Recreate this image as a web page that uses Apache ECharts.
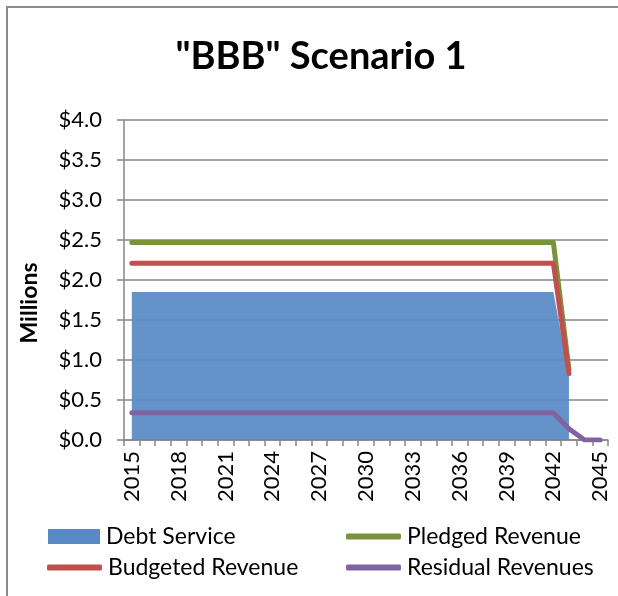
<!DOCTYPE html>
<html>
<head>
<meta charset="utf-8">
<script src="https://cdn.jsdelivr.net/npm/echarts@6/dist/echarts.min.js"></script>
<style>
html,body{margin:0;padding:0;background:#fff;}
#chart{width:618px;height:596px;}
</style>
</head>
<body>
<div id="chart"></div>
<script>
var years = ['2015','2016','2017','2018','2019','2020','2021','2022','2023','2024','2025','2026','2027','2028','2029','2030','2031','2032','2033','2034','2035','2036','2037','2038','2039','2040','2041','2042','2043','2044','2045'];
var debtService = [1.85,1.85,1.85,1.85,1.85,1.85,1.85,1.85,1.85,1.85,1.85,1.85,1.85,1.85,1.85,1.85,1.85,1.85,1.85,1.85,1.85,1.85,1.85,1.85,1.85,1.85,1.85,1.85,0.79,null,null];
var pledgedRevenue = [2.47,2.47,2.47,2.47,2.47,2.47,2.47,2.47,2.47,2.47,2.47,2.47,2.47,2.47,2.47,2.47,2.47,2.47,2.47,2.47,2.47,2.47,2.47,2.47,2.47,2.47,2.47,2.47,0.88,null,null];
var budgetedRevenue = [2.21,2.21,2.21,2.21,2.21,2.21,2.21,2.21,2.21,2.21,2.21,2.21,2.21,2.21,2.21,2.21,2.21,2.21,2.21,2.21,2.21,2.21,2.21,2.21,2.21,2.21,2.21,2.21,0.83,null,null];
var residualRevenues = [0.34,0.34,0.34,0.34,0.34,0.34,0.34,0.34,0.34,0.34,0.34,0.34,0.34,0.34,0.34,0.34,0.34,0.34,0.34,0.34,0.34,0.34,0.34,0.34,0.34,0.34,0.34,0.34,0.14,0,0];
var titleText = '"BBB" Scenario 1';
var yAxisName = 'Millions';

var FONT = 'Lato';
var GRAY = '#868686';
var chart = echarts.init(document.getElementById('chart'), null, {renderer:'canvas'});
function legendItem(name, left, top, icon, w, h){
  return {
    left: left, top: top, orient:'horizontal', itemWidth: w, itemHeight: h, itemGap: 0,
    padding:0, selectedMode:false,
    textStyle:{fontFamily:FONT, fontSize:23, color:'#000', padding:[0,0,0,1]},
    data:[{name:name, icon:icon}]
  };
}
chart.setOption({
  animation:false,
  backgroundColor:'#fff',
  title:{
    text:titleText, left:316, top:33, textAlign:'center',
    textStyle:{fontFamily:FONT, fontWeight:'bold', fontSize:38, color:'#000'}
  },
  graphic:[{type:'rect', shape:{x:7,y:7,width:720,height:720}, style:{fill:'none', stroke:'#8c8c8c', lineWidth:2}, silent:true}],
  legend:[
    legendItem('Debt Service', 48, 525, 'rect', 52, 15),
    legendItem('Pledged Revenue', 346, 525, 'roundRect', 55, 6),
    legendItem('Budgeted Revenue', 47, 556, 'roundRect', 55, 6),
    legendItem('Residual Revenues', 346, 556, 'roundRect', 55, 6)
  ],
  grid:{left:124, right:10, top:120, bottom:156, containLabel:false},
  xAxis:{
    type:'category', data:years, boundaryGap:true,
    axisLine:{lineStyle:{color:GRAY, width:1.5}},
    axisTick:{show:true, interval:0, length:6, lineStyle:{color:GRAY, width:1.5}},
    axisLabel:{interval:2, rotate:90, margin:11, fontFamily:FONT, fontSize:22, color:'#000'},
    splitLine:{show:false}
  },
  yAxis:{
    type:'value', min:0, max:4, interval:0.5,
    name:yAxisName, nameLocation:'middle', nameGap:83, nameRotate:90,
    nameTextStyle:{fontFamily:FONT, fontWeight:'bold', fontSize:23, color:'#000', padding:[0,0,0,-46]},
    axisLine:{show:true, lineStyle:{color:GRAY, width:1.5}},
    axisTick:{show:true, length:7, lineStyle:{color:GRAY, width:1.5}},
    axisLabel:{margin:22, fontFamily:FONT, fontSize:22, color:'#000', formatter:function(v){return '$'+v.toFixed(1);}},
    splitLine:{show:true, lineStyle:{color:GRAY, width:1.5}}
  },
  series:[
    {name:'Debt Service', type:'line', data:debtService, symbol:'none', lineStyle:{width:0},
     itemStyle:{color:'#5A8AC6'}, areaStyle:{color:'#5A8AC6', opacity:0.93}},
    {name:'Pledged Revenue', type:'line', data:pledgedRevenue, symbol:'none',
     itemStyle:{color:'#77933C'}, lineStyle:{color:'#77933C', width:5, cap:'round', join:'round'}},
    {name:'Budgeted Revenue', type:'line', data:budgetedRevenue, symbol:'none',
     itemStyle:{color:'#C0504D'}, lineStyle:{color:'#C0504D', width:5, cap:'round', join:'round'}},
    {name:'Residual Revenues', type:'line', data:residualRevenues, symbol:'none',
     itemStyle:{color:'#8064A2'}, lineStyle:{color:'#8064A2', width:5, cap:'round', join:'round'}}
  ]
});
</script>
</body>
</html>
